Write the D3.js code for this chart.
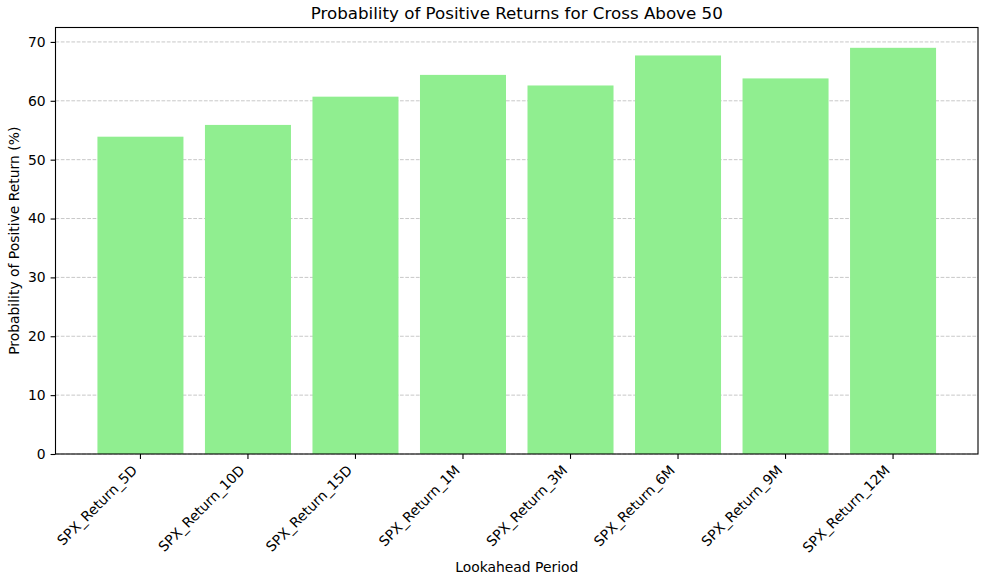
<!DOCTYPE html>
<html>
<head>
<meta charset="utf-8">
<script src="https://cdn.jsdelivr.net/npm/d3@7"></script>
<style>
  body { margin: 0; background: #fff; }
  text { font-family: "DejaVu Sans", sans-serif; fill: #000; }
</style>
</head>
<body>
<div id="chart"></div>
<script>
const periods = ["SPX_Return_5D", "SPX_Return_10D", "SPX_Return_15D", "SPX_Return_1M",
                 "SPX_Return_3M", "SPX_Return_6M", "SPX_Return_9M", "SPX_Return_12M"];
const probPositive = [53.9, 55.9, 60.7, 64.4, 62.6, 67.7, 63.8, 69.0];
const yTicks = [0, 10, 20, 30, 40, 50, 60, 70];

const width = 983, height = 576;
const margin = { top: 27.5, right: 5, bottom: 122, left: 55.5 };
const innerW = width - margin.left - margin.right;
const innerH = height - margin.top - margin.bottom;

const svg = d3.select("#chart")
  .append("svg")
  .attr("width", width)
  .attr("height", height);

const g = svg.append("g")
  .attr("transform", `translate(${margin.left},${margin.top})`);

const x = d3.scaleBand()
  .domain(periods)
  .range([0, innerW])
  .paddingInner(0.2)
  .paddingOuter(0.39);

const y = d3.scaleLinear()
  .domain([0, d3.max(probPositive) * 1.05])
  .range([innerH, 0]);

// grid behind the bars
g.append("g")
  .selectAll("line")
  .data(yTicks)
  .enter().append("line")
    .attr("x1", 0)
    .attr("x2", innerW)
    .attr("y1", d => y(d))
    .attr("y2", d => y(d))
    .attr("stroke", "#b0b0b0")
    .attr("stroke-opacity", 0.7)
    .attr("stroke-width", 1)
    .attr("stroke-dasharray", "3.7,1.6");

g.append("g")
  .selectAll("rect")
  .data(periods)
  .enter().append("rect")
    .attr("x", d => x(d))
    .attr("width", x.bandwidth())
    .attr("y", (d, i) => y(probPositive[i]))
    .attr("height", (d, i) => innerH - y(probPositive[i]))
    .attr("fill", "#90ee90");

// y axis
const yAxis = g.append("g")
  .call(d3.axisLeft(y).tickValues(yTicks).tickSize(4.9).tickPadding(4.9));
yAxis.select(".domain").remove();
yAxis.selectAll("line").attr("stroke", "#000").attr("stroke-width", 1.1);
yAxis.selectAll("text").style("font-size", "13.9px").attr("font-family", "DejaVu Sans");

// x axis
const xAxis = g.append("g")
  .attr("transform", `translate(0,${innerH})`)
  .call(d3.axisBottom(x).tickSize(4.9).tickFormat(""));
xAxis.select(".domain").remove();
xAxis.selectAll("line").attr("stroke", "#000").attr("stroke-width", 1.1);

g.append("g")
  .selectAll("text")
  .data(periods)
  .enter().append("text")
    .attr("transform", d => `translate(${x(d) + x.bandwidth() / 2 - 2.3},${innerH + 9.8 + 7.4}) rotate(-45)`)
    .attr("text-anchor", "end")
    .style("font-size", "13.9px")
    .text(d => d);

// frame
g.append("rect")
  .attr("width", innerW)
  .attr("height", innerH)
  .attr("fill", "none")
  .attr("stroke", "#000")
  .attr("stroke-width", 1.1);

svg.append("text")
  .attr("x", margin.left + innerW / 2)
  .attr("y", 19)
  .attr("text-anchor", "middle")
  .style("font-size", "16.7px")
  .text("Probability of Positive Returns for Cross Above 50");

svg.append("text")
  .attr("x", margin.left + innerW / 2)
  .attr("y", 572)
  .attr("text-anchor", "middle")
  .style("font-size", "13.9px")
  .text("Lookahead Period");

svg.append("text")
  .attr("transform", `translate(19,${margin.top + innerH / 2}) rotate(-90)`)
  .attr("text-anchor", "middle")
  .style("font-size", "13.9px")
  .text("Probability of Positive Return (%)");
</script>
</body>
</html>
